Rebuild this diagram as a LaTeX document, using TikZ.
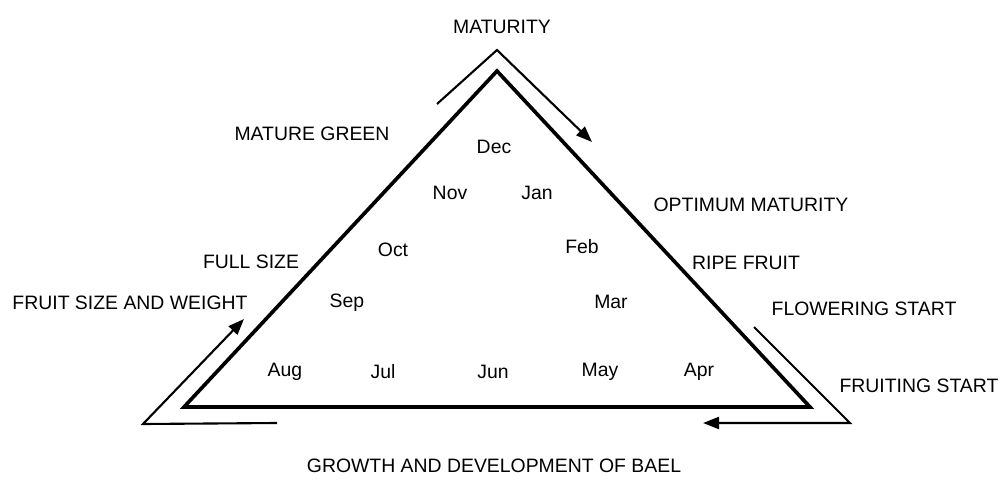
\documentclass[tikz,border=0pt]{standalone}
\usepackage{fontspec}
\setmainfont{Liberation Sans}
\usetikzlibrary{arrows.meta}

\tikzset{
  lbl/.style={font=\fontsize{13.8}{16.5}\selectfont, inner sep=0pt},
  side/.style={line width=2.6pt, line join=miter},
  cycarrow/.style={line width=1.5pt, line join=miter, -{Triangle[length=0.4cm,width=0.3cm]}},
}

\begin{document}
\begin{tikzpicture}[x=0.025cm, y=-0.025cm]
    \useasboundingbox (0,0) rectangle (1002,487);

    % Segitiga bulan
    \coordinate (top) at (497,71);
    \coordinate (bl) at (184,407);
    \coordinate (br) at (810,407);
    \draw[side] (top) -- (br) -- (bl) -- cycle;

    % Panah siklus di luar segitiga
    \draw[cycarrow] (437,104) -- (497,50) -- (592,142);
    \draw[cycarrow] (754,327) -- (850,423) -- (703,423);
    \draw[cycarrow] (277,423) -- (143,424) -- (244,319);

    % Bulan
    \node[lbl] (dec) at (494,147) {Dec};
    \node[lbl] (nov) at (450,193) {Nov};
    \node[lbl] (jan) at (537,193) {Jan};
    \node[lbl] (oct) at (393,250) {Oct};
    \node[lbl] (feb) at (582,247) {Feb};
    \node[lbl] (sep) at (347,303) {Sep};
    \node[lbl] (mar) at (611,302) {Mar};
    \node[lbl] (aug) at (285,372) {Aug};
    \node[lbl] (jul) at (383,372) {Jul};
    \node[lbl] (jun) at (493,372) {Jun};
    \node[lbl] (may) at (600,372) {May};
    \node[lbl] (apr) at (699,372) {Apr};

    % Tahap
    \node[lbl] (maturity) at (502,27) {MATURITY};
    \node[lbl] (green) at (312,134) {MATURE GREEN};
    \node[lbl] (optimum) at (751,205) {OPTIMUM MATURITY};
    \node[lbl] (fullsize) at (251,262) {FULL SIZE};
    \node[lbl] (ripe) at (746,263) {RIPE FRUIT};
    \node[lbl] (sizewt) at (130,303) {FRUIT SIZE AND WEIGHT};
    \node[lbl] (flower) at (864,309) {FLOWERING START};
    \node[lbl] (fruiting) at (919,386) {FRUITING START};
    \node[lbl] (title) at (494,466) {GROWTH AND DEVELOPMENT OF BAEL};
\end{tikzpicture}
\end{document}
